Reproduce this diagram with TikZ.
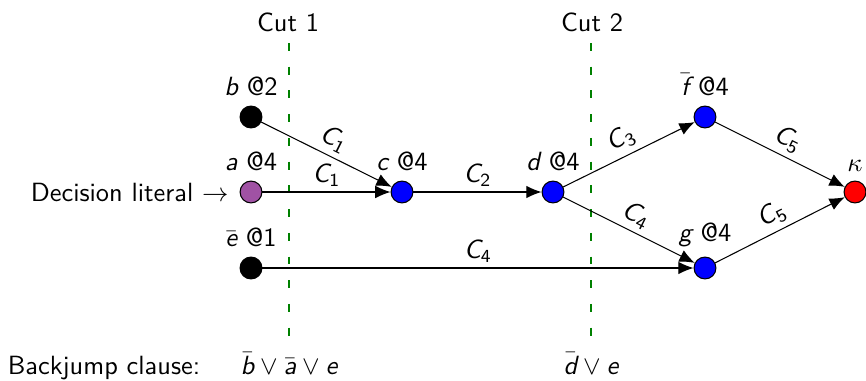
\documentclass[tikz,border=0pt]{standalone}
\usepackage{amsmath}
\usetikzlibrary{arrows.meta}
\renewcommand{\familydefault}{\sfdefault}
\newcommand{\mv}[1]{\text{\itshape #1}}
\newcommand{\cl}[1]{$\mv{C}_{\text{#1}}$}
\definecolor{lpurple}{RGB}{160,82,164}
\definecolor{cutgreen}{RGB}{0,128,0}
\tikzset{
  lit/.style={circle,draw=black,inner sep=0pt,minimum size=8.3pt},
  imp/.style={-{Latex[length=5.8pt,width=4.8pt]},black},
  cutline/.style={cutgreen,line width=1pt,dash pattern=on 3pt off 6pt},
  elab/.style={sloped,above,inner sep=2pt}
}
\begin{document}
\begin{tikzpicture}[x=0.3794pt,y=-0.3794pt]
\useasboundingbox (0,0) rectangle (866,381);
% cuts
\node (cut1) at (288,22) {Cut 1};
\node (cut2) at (592,22) {Cut 2};
\coordinate (c1t) at (289,43);
\coordinate (c1b) at (289,342);
\coordinate (c2t) at (591,43);
\coordinate (c2b) at (591,342);
\draw[cutline] (c1t) -- (c1b);
\draw[cutline] (c2t) -- (c2b);
% literals
\node[lit,fill=black,label=above:{$\mv{b}$ @2}] (b) at (251,117) {};
\node[lit,fill=lpurple,label=above:{$\mv{a}$ @4}] (a) at (251,192) {};
\node[lit,fill=black,label=above:{$\bar{\mv{e}}$ @1}] (e) at (251,268) {};
\node[lit,fill=blue,label=above:{$\mv{c}$ @4}] (c) at (402,192) {};
\node[lit,fill=blue,label=above:{$\mv{d}$ @4}] (d) at (553,192) {};
\node[lit,fill=blue,label=above:{$\bar{\mv{f}}$ @4}] (f) at (705,117) {};
\node[lit,fill=blue,label=above:{$\mv{g}$ @4}] (g) at (705,268) {};
\node[lit,fill=red,label=above:{$\kappa$}] (k) at (855,192) {};
% implications
\draw[imp] (b) -- node[elab] {\cl{1}} (c);
\draw[imp] (a) -- node[elab] {\cl{1}} (c);
\draw[imp] (c) -- node[elab] {\cl{2}} (d);
\draw[imp] (d) -- node[elab] {\cl{3}} (f);
\draw[imp] (d) -- node[elab] {\cl{4}} (g);
\draw[imp] (e) -- node[elab] {\cl{4}} (g);
\draw[imp] (f) -- node[elab] {\cl{5}} (k);
\draw[imp] (g) -- node[elab] {\cl{5}} (k);
% texts
\node[anchor=east,inner sep=0pt] (dec) at (229,192) {Decision literal $\rightarrow$};
\node[anchor=base] (bj) at (104,374) {Backjump clause:};
\node[anchor=base] (bj1) at (289,374) {$\bar{\mv{b}} \vee \bar{\mv{a}} \vee \mv{e}$};
\node[anchor=base] (bj2) at (591,374) {$\bar{\mv{d}} \vee \mv{e}$};
\end{tikzpicture}
\end{document}
